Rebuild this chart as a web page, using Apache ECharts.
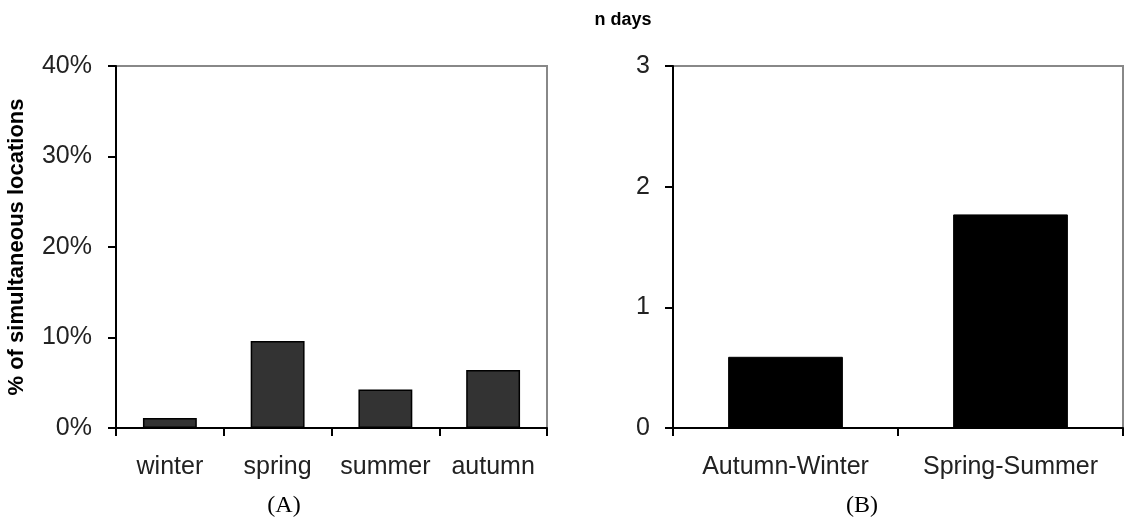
<!DOCTYPE html>
<html>
<head>
<meta charset="utf-8">
<script src="https://cdn.jsdelivr.net/npm/echarts@6/dist/echarts.min.js"></script>
<style>
html,body{margin:0;padding:0;background:#fff;}
#chart{width:1125px;height:518px;}
</style>
</head>
<body>
<div id="chart"></div>
<script>
// Panel A: % of simultaneous locations by season
const seasons = ['winter', 'spring', 'summer', 'autumn'];
const seasonPct = [1.1, 9.6, 4.25, 6.4];
const pctTicks = [0, 10, 20, 30, 40];

// Panel B: n days by half-year
const halves = ['Autumn-Winter', 'Spring-Summer'];
const nDays = [0.59, 1.77];
const dayTicks = [0, 1, 2, 3];

const titleTop = 'n days';
const titleY = '% of simultaneous locations';
const panelA = '(A)';
const panelB = '(B)';

const sans = '"Liberation Sans", Arial, sans-serif';
const serif = '"Liberation Serif", "Times New Roman", serif';

const axisLine = { show: true, lineStyle: { color: '#000', width: 2 } };
const axisTick = { show: true, length: 8, lineStyle: { color: '#000', width: 2 } };
const valLabel = { fontFamily: sans, fontSize: 25, color: '#222', margin: 23 };
const catLabel = { fontFamily: sans, fontSize: 25, color: '#222', margin: 27, interval: 0 };

const chart = echarts.init(document.getElementById('chart'), null, { renderer: 'canvas' });
chart.setOption({
  animation: false,
  backgroundColor: '#fff',
  title: [
    { text: titleTop, left: 618, top: 6, textAlign: 'center',
      textStyle: { fontFamily: sans, fontSize: 18, fontWeight: 'bold', color: '#000' } },
    { text: panelA, left: 279, top: 489, textAlign: 'center',
      textStyle: { fontFamily: serif, fontSize: 24, fontWeight: 'normal', color: '#000' } },
    { text: panelB, left: 857, top: 489, textAlign: 'center',
      textStyle: { fontFamily: serif, fontSize: 24, fontWeight: 'normal', color: '#000' } }
  ],
  grid: [
    { left: 116, right: 578, top: 66, bottom: 90, show: true, borderColor: '#888', borderWidth: 2, backgroundColor: 'transparent' },
    { left: 673, right: 2, top: 66, bottom: 90, show: true, borderColor: '#888', borderWidth: 2, backgroundColor: 'transparent' }
  ],
  xAxis: [
    { type: 'category', gridIndex: 0, data: seasons, axisLine, axisTick, axisLabel: catLabel, splitLine: { show: false } },
    { type: 'category', gridIndex: 1, data: halves, axisLine, axisTick, axisLabel: catLabel, splitLine: { show: false } }
  ],
  yAxis: [
    { type: 'value', gridIndex: 0, min: pctTicks[0], max: pctTicks[pctTicks.length - 1], interval: 10,
      axisLine, axisTick, splitLine: { show: false },
      axisLabel: Object.assign({}, valLabel, { margin: 24, formatter: v => v + '%' }),
      name: titleY, nameLocation: 'middle', nameRotate: 90, nameGap: 88,
      nameTextStyle: { fontFamily: sans, fontSize: 22, fontWeight: 'bold', color: '#000' } },
    { type: 'value', gridIndex: 1, min: dayTicks[0], max: dayTicks[dayTicks.length - 1], interval: 1,
      axisLine, axisTick, splitLine: { show: false }, axisLabel: valLabel }
  ],
  series: [
    { type: 'bar', xAxisIndex: 0, yAxisIndex: 0, data: seasonPct, barWidth: '50%',
      itemStyle: { color: '#333333', borderColor: '#000', borderWidth: 1.5 } },
    { type: 'bar', xAxisIndex: 1, yAxisIndex: 1, data: nDays, barWidth: '51%',
      itemStyle: { color: '#000', borderColor: '#000', borderWidth: 1 } }
  ]
});
</script>
</body>
</html>
